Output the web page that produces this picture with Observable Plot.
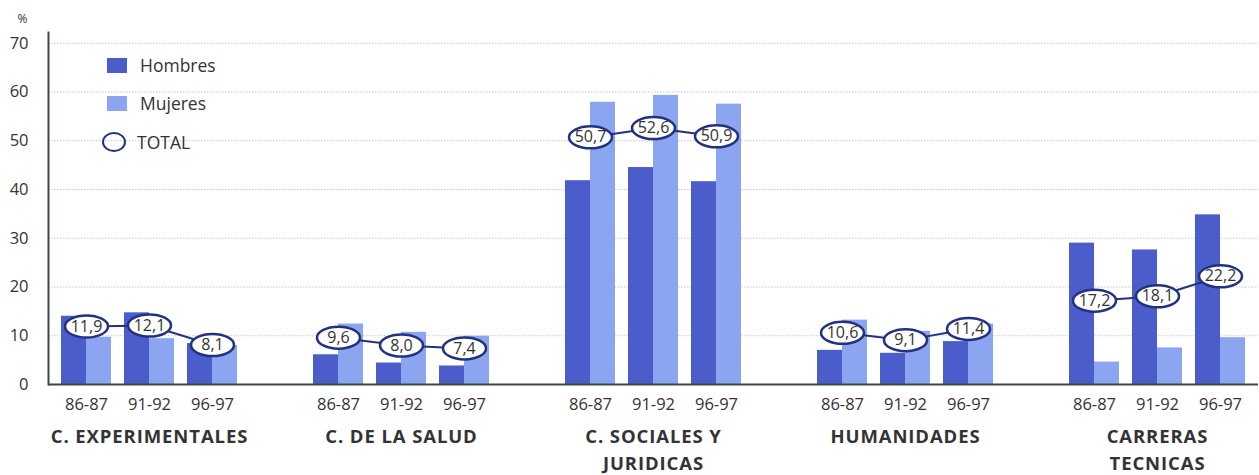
<!DOCTYPE html>
<html>
<head>
<meta charset="utf-8">
<script src="https://cdn.jsdelivr.net/npm/d3@7"></script>
<script src="https://cdn.jsdelivr.net/npm/@observablehq/plot@0.6"></script>
<style>
  html, body { margin: 0; padding: 0; background: #fff; }
  #wrap { position: relative; width: 1259px; height: 475px; font-family: "Open Sans", sans-serif; }
  #legend { position: absolute; left: 0; top: 0; font-size: 17.5px; color: #333; }
  .li { position: absolute; left: 107px; display: flex; align-items: center; height: 20px; }
  .sw { width: 20px; height: 15px; margin-right: 13px; }
  .el { width: 20px; height: 16px; border: 2.5px solid #23327f; border-radius: 50%; margin-left: -5px; margin-right: 11px; box-sizing: content-box; }
  .catlab text { letter-spacing: 0.9px; }
</style>
</head>
<body>
<div id="wrap"></div>
<script>
const categories = ["C. EXPERIMENTALES", "C. DE LA SALUD", "C. SOCIALES Y\nJURIDICAS", "HUMANIDADES", "CARRERAS\nTECNICAS"];
const periods = ["86-87", "91-92", "96-97"];
const series = ["Hombres", "Mujeres", "TOTAL"];
// values per category, in period order
const hombres = [14.0, 14.7, 8.4,  6.1, 4.4, 3.8,  41.8, 44.5, 41.6,  7.0, 6.4, 8.8,  29.0, 27.6, 34.8];
const mujeres = [9.7, 9.4, 8.0,  12.4, 10.7, 9.9,  57.9, 59.3, 57.5,  13.2, 10.9, 12.4,  4.6, 7.5, 9.6];
const totales = [11.9, 12.1, 8.1,  9.6, 8.0, 7.4,  50.7, 52.6, 50.9,  10.6, 9.1, 11.4,  17.2, 18.1, 22.2];
const yTicks = [0, 10, 20, 30, 40, 50, 60, 70];

const colH = "#4b5dcb", colM = "#8ba5f0", navy = "#23327f";

// build table
const rows = [];
categories.forEach((c, i) => periods.forEach((p, j) => {
  const k = i * periods.length + j;
  rows.push({cat: c, period: p, key: i + "|" + p, h: hombres[k], m: mujeres[k], t: totales[k]});
}));
// x domain with one spacer between categories
const domain = [];
categories.forEach((c, i) => {
  if (i > 0) domain.push("gap" + i);
  periods.forEach(p => domain.push(i + "|" + p));
});
const tickKeys = rows.map(d => d.key);
const catLabels = categories.map((c, i) => ({cat: c, key: i + "|" + periods[1]}));

const ellipse = {
  draw(ctx) {
    const rx = 21.5, ry = 11, k = 0.5523;
    ctx.moveTo(rx, 0);
    ctx.bezierCurveTo(rx, ry * k, rx * k, ry, 0, ry);
    ctx.bezierCurveTo(-rx * k, ry, -rx, ry * k, -rx, 0);
    ctx.bezierCurveTo(-rx, -ry * k, -rx * k, -ry, 0, -ry);
    ctx.bezierCurveTo(rx * k, -ry, rx, -ry * k, rx, 0);
    ctx.closePath();
  }
};
const fmt = v => v.toFixed(1).replace(".", ",");

const chart = Plot.plot({
  width: 1259,
  height: 475,
  marginLeft: 48,
  marginRight: 1,
  marginTop: 32,
  marginBottom: 91,
  style: {fontFamily: "'Open Sans', sans-serif", fontSize: "16px", color: "#333", background: "white"},
  x: {domain, padding: 0.206, axis: null},
  y: {domain: [0, 72.2], axis: null},
  marks: [
    Plot.gridY(yTicks.filter(t => t > 0), {stroke: "#999", strokeOpacity: 0.55, strokeDasharray: "1.5,1.5"}),
    Plot.barY(rows, {x: "key", y: "h", fill: colH, insetRight: 25}),
    Plot.barY(rows, {x: "key", y: "m", fill: colM, insetLeft: 25}),
    Plot.line(rows, {x: "key", y: "t", z: "cat", stroke: navy, strokeWidth: 2}),
    Plot.dot(rows, {x: "key", y: "t", symbol: ellipse, r: 10, fill: "white", stroke: navy, strokeWidth: 2.5}),
    Plot.text(rows, {x: "key", y: "t", text: d => fmt(d.t), fill: "#333", fontSize: 16}),
    Plot.ruleY([0], {stroke: "#3c4a40", strokeWidth: 2}),
    Plot.frame({anchor: "left", stroke: "#3c4a40", strokeWidth: 2}),
    Plot.axisY({ticks: yTicks, tickSize: 0, tickPadding: 20, label: null, fontSize: 16.5}),
    Plot.axisX({ticks: tickKeys, tickFormat: k => k.split("|")[1], tickSize: 0, tickPadding: 14, label: null, fontSize: 16.5}),
    Plot.text(catLabels, {x: "key", y: 0, text: "cat", dy: 39.5, lineAnchor: "top", lineHeight: 1.45, fontWeight: "bold", fontSize: 18.5, fill: "#333", className: "catlab"}),
    Plot.text(["%"], {frameAnchor: "top-left", dx: -31, dy: -18, fontSize: 12, fill: "#333"})
  ]
});

const wrap = document.getElementById("wrap");
wrap.appendChild(chart);
const legend = document.createElement("div");
legend.id = "legend";
legend.innerHTML =
  `<div class="li" style="top:55px"><span class="sw" style="background:${colH}"></span>${series[0]}</div>` +
  `<div class="li" style="top:93px"><span class="sw" style="background:${colM}"></span>${series[1]}</div>` +
  `<div class="li" style="top:132px"><span class="el"></span>${series[2]}</div>`;
wrap.appendChild(legend);
</script>
</body>
</html>
